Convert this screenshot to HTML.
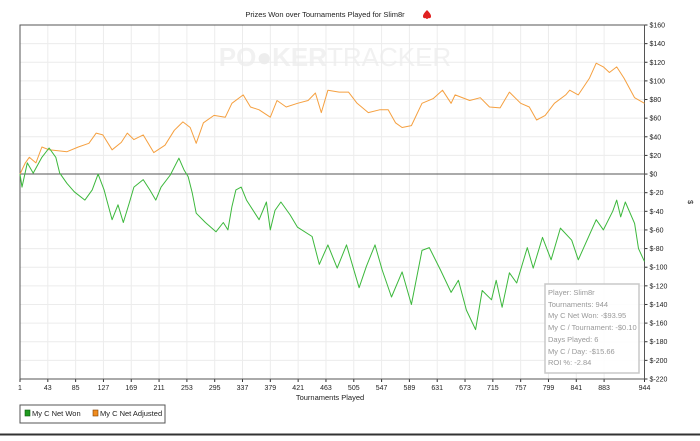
<!DOCTYPE html>
<html><head><meta charset="utf-8"><style>
html,body{margin:0;padding:0;background:#fff;}
body{width:700px;height:436px;overflow:hidden;font-family:"Liberation Sans",sans-serif;}
text{font-family:"Liberation Sans",sans-serif;}
</style></head><body>
<svg id="chart" width="700" height="436" viewBox="0 0 700 436">
<rect x="0" y="0" width="700" height="436" fill="#fff"/>
<text x="325" y="17" font-size="7.5" text-anchor="middle" fill="#222">Prizes Won over Tournaments Played for Slim8r</text>
<path d="M427 10 q-4 4 -4 6 a2 2 0 0 0 4 0.5 l-1 2.5 h2 l-1 -2.5 a2 2 0 0 0 4 -0.5 q0 -2 -4 -6z" fill="#e02020"/>
<text x="335" y="66" font-size="26" font-weight="bold" text-anchor="middle" fill="#f1f1f1">PO<tspan fill="#ededed">●</tspan>KER<tspan font-weight="normal">TRACKER</tspan></text>
<g id="grid"></g>
<g id="axes"></g>
<g id="series"></g>
<rect x="545" y="284" width="94" height="89" fill="#fff" fill-opacity="0.9" stroke="#c8c8c8" stroke-width="1.5"/>
<g font-size="7.5" fill="#999">
<text x="548" y="295">Player: Slim8r</text>
<text x="548" y="307">Tournaments: 944</text>
<text x="548" y="318">My C Net Won: -$93.95</text>
<text x="548" y="330">My C / Tournament: -$0.10</text>
<text x="548" y="342">Days Played: 6</text>
<text x="548" y="354">My C / Day: -$15.66</text>
<text x="548" y="365">ROI %: -2.84</text>
</g>
<text x="330" y="400" font-size="7.5" text-anchor="middle" fill="#222">Tournaments Played</text>
<text x="0" y="0" font-size="7.5" fill="#222" transform="translate(688,200) rotate(90)">$</text>
<g>
<rect x="20" y="405" width="145" height="18" fill="#fff" stroke="#555" stroke-width="1"/>
<g><rect x="25" y="410" width="5" height="6" fill="#1f9a1f" stroke="#0d5a0d" stroke-width="0.6"/><text x="32" y="416" font-size="7.5" fill="#222">My C Net Won</text></g>
<g><rect x="93" y="410" width="5" height="6" fill="#f08c1e" stroke="#804000" stroke-width="0.6"/><text x="100" y="416" font-size="7.5" fill="#222">My C Net Adjusted</text></g>
</g>
<line x1="0" y1="434.5" x2="700" y2="434.5" stroke="#333" stroke-width="2"/>
</svg>
<script>
const xTicks=[1,43,85,127,169,211,253,295,337,379,421,463,505,547,589,631,673,715,757,799,841,883,944];
const yTicks=[160,140,120,100,80,60,40,20,0,-20,-40,-60,-80,-100,-120,-140,-160,-180,-200,-220];
const wonT=[1,4,12,21,34,45,55,61,72,83,99,110,119,128,132,140,149,157,166,173,187,197,206,214,228,241,249,255,261,267,281,297,308,315,321,327,335,343,362,373,379,386,395,409,420,442,453,466,480,494,513,524,537,548,562,578,592,608,619,636,652,663,675,689,699,713,720,729,740,751,767,776,790,803,817,834,844,871,882,896,902,908,915,929,935,944];
const wonV=[0,-14,12,1,18,28,18,1,-10,-19,-28,-17,0,-17,-28,-49,-33,-52,-31,-14,-6,-17,-28,-14,-1,17,4,-3,-20,-42,-52,-62,-52,-60,-35,-17,-14,-28,-49,-30,-60,-39,-30,-44,-57,-67,-97,-76,-101,-76,-122,-99,-76,-103,-132,-105,-140,-82,-79,-103,-127,-114,-146,-167,-125,-135,-114,-143,-106,-117,-79,-101,-68,-92,-58,-71,-92,-49,-60,-40,-28,-46,-30,-53,-80,-94];
const adjT=[1,9,15,25,34,45,72,89,105,116,126,140,154,163,173,187,203,220,234,247,258,267,278,294,311,321,338,349,362,379,389,403,420,436,447,456,466,483,497,510,527,544,557,568,578,592,608,625,639,652,658,680,696,710,726,740,757,770,781,794,808,825,831,844,861,871,882,891,902,913,929,944];
const adjV=[0,12,18,12,29,26,24,29,33,44,42,26,34,44,37,42,23,31,47,56,50,33,55,63,61,76,85,72,69,61,79,72,76,79,87,66,90,88,88,76,66,69,69,55,50,52,76,81,90,76,85,79,82,72,71,88,76,72,58,63,76,85,90,85,103,119,115,109,115,103,82,76];

const NS='http://www.w3.org/2000/svg';
const L=20,R=644.5,T=25,B=379;
const xS=t=>L+(t-1)*(R-L)/943;
const yS=v=>T+(160-v)*(B-T)/380;
function mk(tag,attrs,parent){const e=document.createElementNS(NS,tag);for(const k in attrs)e.setAttribute(k,attrs[k]);parent.appendChild(e);return e;}
const grid=document.getElementById('grid'),axes=document.getElementById('axes'),ser=document.getElementById('series');
xTicks.forEach(t=>{
  const g=mk('line',{x1:xS(t),x2:xS(t),y1:T,y2:B,stroke:'#ececec','stroke-width':1},grid);
  
  
  const tk=mk('line',{x1:xS(t),x2:xS(t),y1:B,y2:B+3,stroke:'#333','stroke-width':1},axes);
  
  
  const lb=mk('text',{x:xS(t),y:B+11,'font-size':7,'text-anchor':'middle',fill:'#222'},axes);
  lb.textContent=t;
  
  
});
yTicks.forEach(v=>{
  const g=mk('line',{x1:L,x2:R,y1:yS(v),y2:yS(v),stroke:'#ececec','stroke-width':1},grid);
  
  
  const tk=mk('line',{x1:R,x2:R+3,y1:yS(v),y2:yS(v),stroke:'#333','stroke-width':1},axes);
  
  
  const lb=mk('text',{x:R+5,y:yS(v)+2.5,'font-size':7,fill:'#222'},axes);
  lb.textContent=(v<0?'$-'+(-v):'$'+v);
  
  
});
const frame=mk('path',{d:`M${L} ${B} V${T} H${R} V${B} H${L}`,fill:'none',stroke:'#555','stroke-width':1},axes);


const zero=mk('line',{x1:L,x2:R,y1:yS(0),y2:yS(0),stroke:'#555','stroke-width':1},axes);


function line(ts,vs,color,name){
  const p=mk('polyline',{points:ts.map((t,i)=>xS(t).toFixed(1)+','+yS(vs[i]).toFixed(1)).join(' '),fill:'none',stroke:color,'stroke-width':1,'stroke-linejoin':'round'},ser);
  
  
}
line(adjT,adjV,'#f5a040','net-adjusted-line');
line(wonT,wonV,'#3cb83c','net-won-line');
</script>
</body></html>
